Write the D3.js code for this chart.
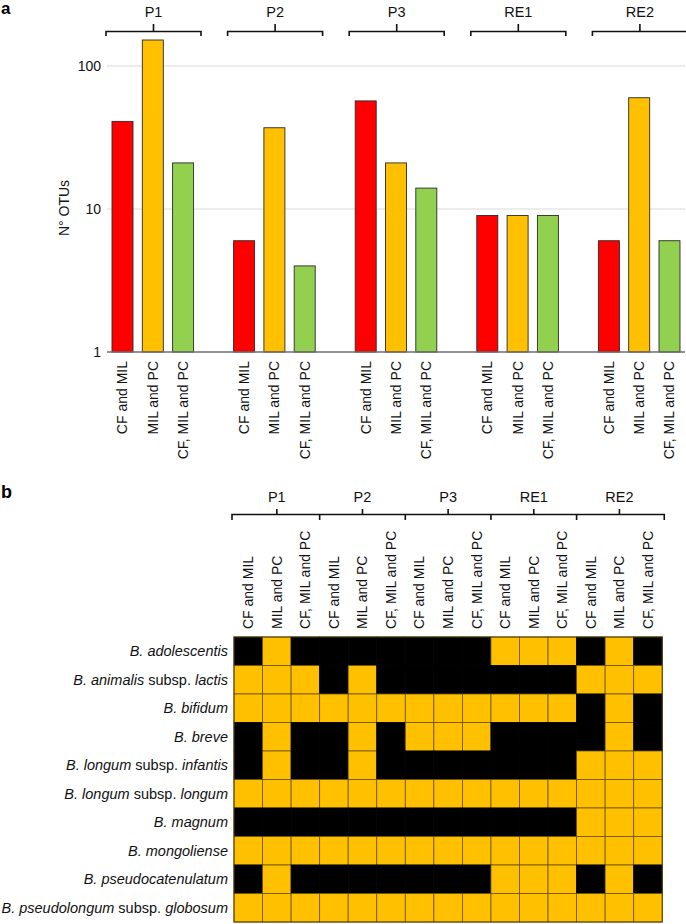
<!DOCTYPE html>
<html>
<head>
<meta charset="utf-8">
<script src="https://cdn.jsdelivr.net/npm/d3@7"></script>
<style>
  html, body { margin: 0; padding: 0; background: #fff; }
  svg { display: block; font-family: "Liberation Sans", Arial, sans-serif; }
</style>
</head>
<body>
<svg id="chart" width="686" height="924"></svg>
<script>
// ---------- DATA ----------
const groups = ["P1", "P2", "P3", "RE1", "RE2"];
const categories = ["CF and MIL", "MIL and PC", "CF, MIL and PC"];
const cfMil    = [41, 6, 57, 9, 6];
const milPc    = [152, 37, 21, 9, 60];
const cfMilPc  = [21, 4, 14, 9, 6];
const yTicks = [1, 10, 100];
const barColors = ["#ff0000", "#ffc000", "#92d050"];

const species = [
  [["B. adolescentis", true]],
  [["B. animalis", true], [" subsp. ", false], ["lactis", true]],
  [["B. bifidum", true]],
  [["B. breve", true]],
  [["B. longum", true], [" subsp. ", false], ["infantis", true]],
  [["B. longum", true], [" subsp. ", false], ["longum", true]],
  [["B. magnum", true]],
  [["B. mongoliense", true]],
  [["B. pseudocatenulatum", true]],
  [["B. pseudolongum", true], [" subsp. ", false], ["globosum", true]]
];
// presence (1 = yellow, 0 = black); columns P1..RE2 x (CF and MIL, MIL and PC, CF, MIL and PC)
const presence = [
  [0,1,0, 0,0,0, 0,0,0, 1,1,1, 0,1,0],
  [1,1,1, 0,1,0, 0,0,0, 0,0,0, 1,1,1],
  [1,1,1, 1,1,1, 1,1,1, 1,1,1, 0,1,0],
  [0,1,0, 0,1,0, 1,1,1, 0,0,0, 0,1,0],
  [0,1,0, 0,1,0, 0,0,0, 0,0,0, 1,1,1],
  [1,1,1, 1,1,1, 1,1,1, 1,1,1, 1,1,1],
  [0,0,0, 0,0,0, 0,0,0, 0,0,0, 1,1,1],
  [1,1,1, 1,1,1, 1,1,1, 1,1,1, 1,1,1],
  [0,1,0, 0,0,0, 0,0,0, 1,1,1, 0,1,0],
  [1,1,1, 1,1,1, 1,1,1, 1,1,1, 1,1,1]
];

// ---------- SETUP ----------
const svg = d3.select("#chart");
const FS = 14;

// ================= PANEL A =================
const series = [cfMil, milPc, cfMilPc];
const barData = [];
groups.forEach((g, gi) => categories.forEach((c, ci) => barData.push({g, c, ci, v: series[ci][gi]})));

const groupStep = 121.6;
const x0 = d3.scaleBand().domain(groups).range([106, 106 + groupStep * groups.length]).padding(0);
const x1 = d3.scaleBand().domain(categories).range([6, 87.6]).paddingInner(0.307).paddingOuter(0);
const y = d3.scaleLog().domain([1, 100]).range([352, 66]);

const gA = svg.append("g");

// gridlines
gA.selectAll("line.grid").data(yTicks.filter(d => d > 1)).join("line")
  .attr("x1", 107).attr("x2", 685)
  .attr("y1", d => y(d)).attr("y2", d => y(d))
  .attr("stroke", "#d9d9d9").attr("stroke-width", 1);

// y tick labels
gA.selectAll("text.ytick").data(yTicks).join("text")
  .attr("x", 101).attr("y", d => y(d)).attr("dy", "0.35em")
  .attr("text-anchor", "end").attr("font-size", FS).attr("fill", "#111")
  .text(d => d);

// bars
gA.selectAll("rect.bar").data(barData).join("rect")
  .attr("x", d => x0(d.g) + x1(d.c))
  .attr("width", x1.bandwidth())
  .attr("y", d => y(d.v))
  .attr("height", d => y(1) - y(d.v))
  .attr("fill", d => barColors[d.ci])
  .attr("stroke", "#2a2a2a").attr("stroke-width", 0.9);

// axis line
gA.append("line").attr("x1", 107).attr("x2", 685).attr("y1", y(1)).attr("y2", y(1))
  .attr("stroke", "#6e6e6e").attr("stroke-width", 1.6);

// category labels
gA.selectAll("text.cat").data(barData).join("text")
  .attr("transform", d => `translate(${x0(d.g) + x1(d.c) + x1.bandwidth() / 2},361) rotate(-90)`)
  .attr("dy", "0.35em").attr("text-anchor", "end").attr("font-size", FS).attr("fill", "#111")
  .text(d => d.c);

// y label
gA.append("text").attr("transform", "translate(64,208) rotate(-90)")
  .attr("dy", "0.35em").attr("text-anchor", "middle").attr("font-size", FS).attr("fill", "#111")
  .text("N° OTUs");

// brackets
const bw = 95;
const br = gA.selectAll("g.br").data(groups).join("g");
br.append("path")
  .attr("d", d => {
    const a = x0(d), b = x0(d) + bw, m = (a + b) / 2;
    return `M${a},36 L${a},31.5 L${b},31.5 L${b},36 M${m},31.5 L${m},24`;
  })
  .attr("fill", "none").attr("stroke", "#111").attr("stroke-width", 1.6);
br.append("text").attr("x", d => x0(d) + bw / 2).attr("y", 17)
  .attr("text-anchor", "middle").attr("font-size", 14.5).attr("fill", "#111").text(d => d);

// panel label
svg.append("text").attr("x", 1).attr("y", 14).attr("font-size", 17).attr("font-weight", "bold").text("a");

// ================= PANEL B =================
const cols = [];
groups.forEach(g => categories.forEach(c => cols.push(g + "|" + c)));
const cellW = 28.55;
const gx = d3.scaleBand().domain(cols).range([234, 234 + cellW * cols.length]).padding(0);
const gy = d3.scaleBand().domain(d3.range(species.length)).range([637, 637 + 28.5 * species.length]).padding(0);

const gB = svg.append("g");
const cells = [];
presence.forEach((row, ri) => row.forEach((v, ci) => cells.push({ri, col: cols[ci], v})));

gB.selectAll("rect.cell").data(cells).join("rect")
  .attr("x", d => gx(d.col)).attr("y", d => gy(d.ri))
  .attr("width", gx.bandwidth()).attr("height", gy.bandwidth())
  .attr("fill", d => d.v ? "#ffc000" : "#000")
  .attr("stroke", d => d.v ? "#6b5200" : "#000").attr("stroke-width", 0.8);

// outer border
gB.append("rect").attr("x", 234).attr("y", 637)
  .attr("width", cellW * cols.length).attr("height", 28.5 * species.length)
  .attr("fill", "none").attr("stroke", "#5a4500").attr("stroke-width", 1);

// column labels
gB.selectAll("text.col").data(cols).join("text")
  .attr("transform", d => `translate(${gx(d) + gx.bandwidth() / 2},629) rotate(-90)`)
  .attr("dy", "0.35em").attr("text-anchor", "start").attr("font-size", FS).attr("fill", "#111")
  .text(d => d.split("|")[1]);

// row labels
const rl = gB.selectAll("text.row").data(species).join("text")
  .attr("x", 228).attr("y", (d, i) => gy(i) + gy.bandwidth() / 2).attr("dy", "0.35em")
  .attr("text-anchor", "end").attr("font-size", 14.5).attr("fill", "#111");
rl.each(function(parts) {
  const t = d3.select(this);
  parts.forEach(p => t.append("tspan").attr("font-style", p[1] ? "italic" : "normal").text(p[0]));
});

// header bracket
const gw = cellW * 3;
const left = 232, right = 234 + cellW * cols.length + 2;
let path = `M${left},520 L${left},514.5 L${right},514.5 L${right},520`;
groups.forEach((g, i) => {
  const a = 234 + gw * i;
  const m = a + gw / 2;
  path += ` M${m},514.5 L${m},509`;
  if (i > 0) path += ` M${a},514.5 L${a},520`;
});
gB.append("path").attr("d", path).attr("fill", "none").attr("stroke", "#111").attr("stroke-width", 1.6);
gB.selectAll("text.hg").data(groups).join("text")
  .attr("x", (d, i) => 234 + gw * i + gw / 2).attr("y", 502)
  .attr("text-anchor", "middle").attr("font-size", 14.5).attr("fill", "#111").text(d => d);

svg.append("text").attr("x", 1).attr("y", 498).attr("font-size", 18).attr("font-weight", "bold").text("b");
</script>
</body>
</html>
